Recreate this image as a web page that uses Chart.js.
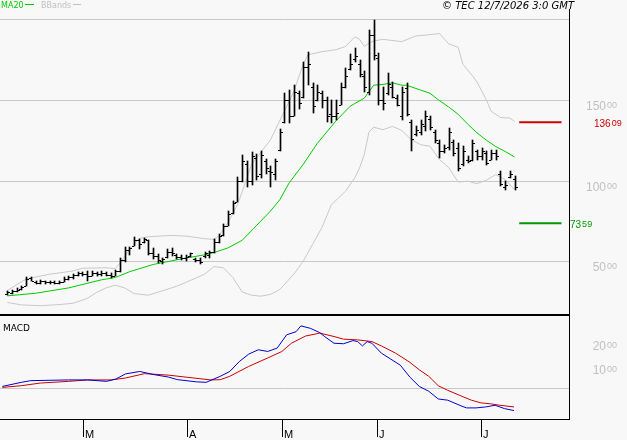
<!DOCTYPE html>
<html>
<head>
<meta charset="utf-8">
<script src="https://cdn.jsdelivr.net/npm/chart.js@4.4.1/dist/chart.umd.min.js"></script>
<style>
  html, body { margin: 0; padding: 0; background: #f8f8f8; }
  #wrap { position: relative; width: 627px; height: 440px; }
  #wrap canvas { position: absolute; left: 0; top: 0; }
</style>
</head>
<body>
<div id="wrap">
  <canvas id="priceChart" width="627" height="440"></canvas>
  <canvas id="macdChart" width="627" height="440"></canvas>
</div>
<script>
// daily bars
const highs = [31.7,32.1,33.2,34.8,40.0,40.3,37.8,38.3,38.0,38.0,
  37.6,37.8,40.0,40.7,42.0,43.4,43.4,44.0,44.0,43.4,
  44.0,43.4,42.6,44.6,52.3,59.1,59.1,65.2,63.6,64.6,
  63.1,58.5,54.8,52.3,57.4,58.0,54.8,53.7,53.7,55.4,
  52.3,52.3,55.7,56.4,64.0,66.7,72.8,81.0,87.2,101.9,
  116.0,111.9,117.5,116.5,118.1,113.6,108.8,113.6,132.1,154.1,
  156.2,159.3,155.6,173.6,179.4,160.3,159.3,155.6,152.0,150.0,
  150.0,160.3,169.6,178.2,181.9,174.7,167.5,193.2,199.5,178.8,
  158.2,166.5,161.3,153.1,158.2,160.3,137.7,133.5,137.7,142.8,
  139.7,131.5,125.3,122.2,132.5,125.3,123.3,121.2,115.0,125.3,
  119.1,120.2,118.1,119.1,119.1,105.7,99.6,105.7,102.7];
const lows = [29.0,29.6,31.0,32.3,34.8,37.8,35.8,36.2,36.0,36.0,
  35.8,35.8,36.9,38.5,39.3,40.6,41.0,37.8,40.6,41.0,
  41.0,40.6,39.5,40.9,43.4,49.6,53.7,59.4,57.4,61.5,
  53.7,51.2,49.2,48.1,52.3,53.3,51.2,50.8,50.2,52.9,
  49.6,48.6,52.3,52.3,55.4,61.1,65.6,71.8,79.0,86.5,
  99.0,95.9,97.5,100.6,101.7,104.1,95.9,100.6,118.1,135.6,
  135.6,139.7,144.5,151.0,159.3,141.8,149.0,144.9,136.2,135.6,
  137.7,146.9,157.2,168.5,173.6,164.4,155.1,153.1,174.7,146.9,
  143.8,153.1,151.0,145.9,137.7,139.7,118.1,127.3,128.4,130.4,
  131.5,123.3,114.0,117.1,119.1,115.0,105.7,108.8,110.9,111.9,
  113.0,113.0,109.9,113.0,113.0,96.9,94.4,101.7,94.4];
const opens = [30,30.5,31.5,33,35,39.5,37,36.5,37.5,37,
  37,36.5,37,39,40,41.5,42.5,42,41,43,
  42,43,41.5,41,44,51,57,59.5,63,62,
  63,55,53,50,52.5,56,54,52.5,52,53,
  51.5,50.5,53,54,56,62,66,72,80,87,
  100,110,100,114,104,112,106,104,119,136,
  150,140,154,152,170,158,150,154,150,141,
  140,147,158,169,175,172,165,155,190,176,
  150,154,158,151,140,157,136,129,130,134,
  138,130,123,118,121,124,120,110,113,113,
  118,115,117,113,117,104,96,102,101];
const closes = [30.8,31.5,32.5,34,39,38,36.5,37.5,37,37.2,
  36.3,37,39,40,41.5,42.5,42,41,43,42,
  43,41.5,41,44,51,57,58,63,61,64,
  55,53,50.5,51.5,56,55,52.5,52,52.5,55,
  50.5,49.5,55,55.5,62,65.5,72,79.5,86,100,
  112,100,115,103,116,108,105,112,130,150,
  140,155,148,170,172,146,155,150,140,140,
  142,158,165,172,177,166,158,190,178,150,
  148,160,152,147,155,141,126,131,135,140,
  133,125,118,120,130,117,108,118,112,123,
  115,118,111,117,115,98,97.5,104,96];

// MA20 and Bollinger bands, read at a few bars
const ma20Idx = [0,6,13,20,23,26,31,35,38,42,44,47,50,53,56,58,60,63,66,70,73,76,78,80,82,84,85,88,90,92,94,96,98,100,102,104,106,108];
const ma20Val = [28.6,30.2,33.5,38.5,40,43.5,48,50.3,52,54,55.4,58.3,63,72,81,88,98.5,110,123,137,146,151,159,159.5,160.5,159,159,156,154,149.5,145.5,141,135,129.5,125,121,118,114.6];
const upperIdx = [0,4,9,14,16,21,23,24,26,28,30,35,38,42,44,45,47,49,50,52,56,59,61,63,64,67,70,72,74,75,76,77,78,80,84,87,89,92,94,96,97,99,100,102,103,105,107,108];
const upperVal = [32,39,42,44,45.7,46,45.5,49,57,64,65.2,66,65.6,64,63.6,65.5,74,85,93,110,125,143,155,172,177.8,179.8,181,183,189,187.5,183,185,186.4,187.4,186,189.5,190,191,184.6,182.5,172,165,161,150,143,139,138.7,136.6];
const lowerIdx = [0,3,7,11,14,17,19,21,23,25,27,30,33,36,38,42,44,46,48,50,52,54,56,58,61,63,65,67,69,72,74,75,76,77,78,80,82,84,86,88,90,92,94,96,98,100,102,104,106,108];
const lowerVal = [24.5,23,22.5,23.2,24,27,30.7,33.5,35.2,33.5,30,29,31.7,34.5,36.9,42,46.7,46,40,31,29,28.4,29.5,32.5,42,50,60.5,71,85,93.4,101.7,107.8,116,130,133,131.5,133.5,131,125.3,122.2,121.2,113,108,99,99.6,98.1,100.2,103.7,100.6,94.4];

// MACD (blue) and signal (red)
const macdIdx = [0,4,6,14,18,22,24,26,29,32,35,37,41,43,46,48,50,52,54,56,58,60,62,63,65,67,68,70,72,74,75,76,77,78,80,82,84,86,88,90,92,94,97,98,100,102,104,106,108];
const macdVal = [0.7,2.4,3.1,3.4,3.4,2.8,3.8,5.9,6.9,5.6,4.6,3.5,2.6,2.4,4.9,6.9,11,14.1,15.9,15.2,16.6,22.1,23.4,25.8,24.8,23,21.4,18.6,18.4,19.7,19.3,17.5,19.3,18.6,14.5,12,9.5,4.6,0.7,-1.3,-4.5,-5,-7.5,-8.2,-8.2,-7.8,-7.1,-8.5,-9.3];
const signalIdx = [0,4,8,14,18,23,26,30,35,39,44,46,48,52,56,59,61,64,67,70,72,75,78,80,83,86,88,90,92,94,97,99,101,103,105,108];
const signalVal = [0.3,1,2.1,2.8,3.4,3.4,4.2,6,5.4,4.5,3.4,3.5,4.9,9,12.5,15.2,18.6,21.6,22.8,21.4,20.3,20,19.3,17.5,14.5,10.7,7.6,4.9,1,-0.9,-3.4,-5,-6.1,-6.5,-7.1,-7.8];

// axes
const priceTicks = [50, 100, 150];
const priceGrid = [50, 100, 150, 200];
const macdTicks = [10, 20];
const monthIdx = [17, 39, 59, 79, 101];
const monthLabels = ["M", "A", "M", "J", "J"];

// target levels
const targets = [136.09, 73.59];
const targetFrom = 109;
const targetTo = 118;

const GRAY = "#c8c8c8";
const LABEL_GRAY = "#c0c0c0";
const targetColors = ["#cc0000", "#009900"];
const targetLabelX = [594, 570];
const RIGHT = 569;

function pts(idx, vals) {
  return idx.map((x, k) => ({ x, y: vals[k] }));
}

// 2px open/close ticks as point images (bar is the 1px column in the middle)
function tickImage(side) {
  const c = document.createElement("canvas");
  c.width = 5;
  c.height = 1;
  const g = c.getContext("2d");
  g.fillStyle = "#000";
  g.fillRect(side === "left" ? 0 : 3, 0, 2, 1);
  return c;
}

// "150.00" with small raised decimals
function supLabel(ctx, value, x, top, color, big, small, alignLeft) {
  const [whole, dec] = value.toFixed(2).split(".");
  ctx.save();
  ctx.fillStyle = color;
  ctx.textBaseline = "alphabetic";
  ctx.font = big + "px 'Liberation Sans'";
  const w = ctx.measureText(whole).width;
  const left = alignLeft ? x : x - w;
  ctx.fillText(whole, left, top + Math.round(big * 0.78));
  ctx.font = small + "px 'Liberation Sans'";
  ctx.fillText(dec, left + w + 1, top + Math.round(small * 0.78));
  ctx.restore();
}

function hline(ctx, x1, x2, y, color, width) {
  ctx.save();
  ctx.strokeStyle = color;
  ctx.lineWidth = width || 1;
  ctx.beginPath();
  ctx.moveTo(x1, y);
  ctx.lineTo(x2, y);
  ctx.stroke();
  ctx.restore();
}

// keep the OHLC marks on whole pixels so they stay crisp
const snapMarks = {
  id: "snapMarks",
  afterDatasetsUpdate(chart) {
    chart.data.datasets.forEach((ds, i) => {
      if (!ds.snap) return;
      chart.getDatasetMeta(i).data.forEach((el) => {
        el.x = Math.round(el.x) + 0.5;
        if (ds.snap === "bar") {
          el.y = Math.round(el.y);
          el.base = Math.round(el.base);
        } else {
          el.y = Math.round(el.y) + 0.5;
        }
      });
    });
  },
};

const xAxis = { type: "linear", min: -0.5, max: 119.6, offset: false, display: false };

const priceDecor = {
  id: "priceDecor",
  beforeDatasetsDraw(chart) {
    const ctx = chart.ctx;
    const y = chart.scales.y;
    priceGrid.forEach((v) => {
      hline(ctx, 0, RIGHT, Math.round(y.getPixelForValue(v)) + 0.5, GRAY);
    });
  },
  afterDraw(chart) {
    const ctx = chart.ctx;
    const y = chart.scales.y;
    priceTicks.forEach((v) => {
      const py = Math.round(y.getPixelForValue(v));
      supLabel(ctx, v, 606, py + 1, LABEL_GRAY, 12, 9);
    });
    targets.forEach((v, k) => {
      const py = Math.round(y.getPixelForValue(v));
      supLabel(ctx, v, targetLabelX[k], py - 3, targetColors[k], 10, 9, true);
    });

    // legend + stamp
    ctx.save();
    ctx.textBaseline = "alphabetic";
    ctx.font = "8px 'DejaVu Sans'";
    ctx.fillStyle = "#00cc00";
    ctx.fillText("MA20", 1, 8);
    ctx.fillStyle = LABEL_GRAY;
    ctx.fillText("BBands", 41, 8);
    ctx.restore();
    hline(ctx, 25, 34, 4.5, "#00cc00");
    hline(ctx, 73, 81, 4.5, LABEL_GRAY);

    ctx.save();
    ctx.font = "italic 10px 'DejaVu Sans'";
    ctx.fillStyle = "#000";
    ctx.textAlign = "right";
    ctx.fillText("\u00a9 TEC 12/7/2026 3:0 GMT", 574, 9);
    ctx.restore();
  },
};

new Chart(document.getElementById("priceChart"), {
  type: "line",
  data: {
    datasets: [
      {
        type: "bar",
        snap: "bar",
        data: highs.map((h, i) => ({ x: i, y: [lows[i], h] })),
        backgroundColor: "#000",
        barThickness: 1,
      },
      {
        snap: "tick",
        data: opens.map((v, i) => ({ x: i, y: v })),
        showLine: false,
        pointStyle: tickImage("left"),
        pointRadius: 3,
      },
      {
        snap: "tick",
        data: closes.map((v, i) => ({ x: i, y: v })),
        showLine: false,
        pointStyle: tickImage("right"),
        pointRadius: 3,
      },
      ...targets.map((v, k) => ({
        data: [{ x: targetFrom, y: v }, { x: targetTo, y: v }],
        borderColor: targetColors[k],
        borderWidth: 2,
        pointRadius: 0,
      })),
      { data: pts(ma20Idx, ma20Val), borderColor: "#00cc00", borderWidth: 1, pointRadius: 0 },
      { data: pts(upperIdx, upperVal), borderColor: GRAY, borderWidth: 1, pointRadius: 0 },
      { data: pts(lowerIdx, lowerVal), borderColor: GRAY, borderWidth: 1, pointRadius: 0 },
    ],
  },
  options: {
    responsive: false,
    animation: false,
    layout: { padding: { left: 0, right: 58, top: 19, bottom: 125 } },
    scales: {
      x: xAxis,
      y: { type: "linear", min: 16.75, max: 200, display: false },
    },
    plugins: { legend: { display: false }, tooltip: { enabled: false } },
  },
  plugins: [snapMarks, priceDecor],
});

const macdDecor = {
  id: "macdDecor",
  beforeDatasetsDraw(chart) {
    const y = chart.scales.y;
    hline(chart.ctx, 0, RIGHT, Math.round(y.getPixelForValue(0)) + 0.5, GRAY);
  },
  afterDraw(chart) {
    const ctx = chart.ctx;
    const x = chart.scales.x;
    const y = chart.scales.y;
    macdTicks.forEach((v) => {
      supLabel(ctx, v, 606, Math.round(y.getPixelForValue(v)) + 1, LABEL_GRAY, 12, 9);
    });

    ctx.save();
    ctx.fillStyle = "#000";
    ctx.font = "9px 'DejaVu Sans'";
    ctx.fillText("MACD", 3, 331);
    // frame
    ctx.fillRect(0, 314, RIGHT + 1, 2);
    ctx.fillRect(0, 419, RIGHT + 1, 1);
    ctx.fillRect(RIGHT, 9, 1, 411);
    // month ticks
    ctx.font = "11px 'Liberation Sans'";
    monthIdx.forEach((idx, k) => {
      const px = Math.round(x.getPixelForValue(idx));
      ctx.fillRect(px, 419, 1, 18);
      ctx.fillText(monthLabels[k], px + 2, 438);
    });
    ctx.restore();
  },
};

new Chart(document.getElementById("macdChart"), {
  type: "line",
  data: {
    datasets: [
      { data: pts(macdIdx, macdVal), borderColor: "#0000cc", borderWidth: 1, pointRadius: 0 },
      { data: pts(signalIdx, signalVal), borderColor: "#cc0000", borderWidth: 1, pointRadius: 0 },
    ],
  },
  options: {
    responsive: false,
    animation: false,
    layout: { padding: { left: 0, right: 58, top: 316, bottom: 21 } },
    scales: {
      x: xAxis,
      y: { type: "linear", min: -12.8, max: 29.9, display: false },
    },
    plugins: { legend: { display: false }, tooltip: { enabled: false } },
  },
  plugins: [macdDecor],
});
</script>
</body>
</html>
